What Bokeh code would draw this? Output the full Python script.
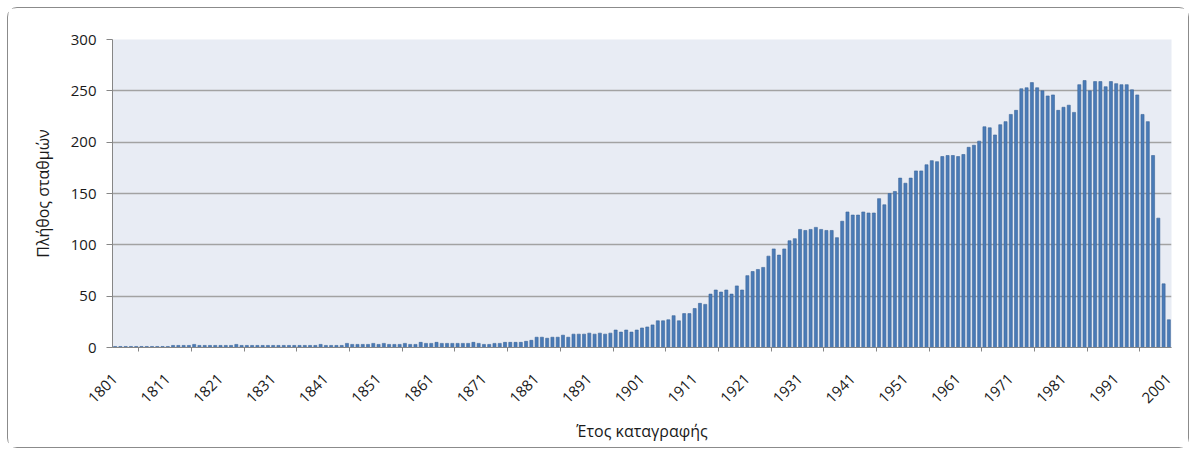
from math import pi

from bokeh.embed import file_html
from bokeh.models import ColumnDataSource, FixedTicker, LinearAxis, Range1d
from bokeh.plotting import figure
from bokeh.resources import INLINE

# Year of record (one bar per year)
years = list(range(1801, 2002))

# Number of stations per year, one row per decade
stations = (
    [1, 1, 1, 1, 1, 1, 1, 1, 1, 1]                       # 1801-1810
    + [1, 2, 2, 2, 2, 3, 2, 2, 2, 2]                     # 1811-1820
    + [2, 2, 2, 3, 2, 2, 2, 2, 2, 2]                     # 1821-1830
    + [2, 2, 2, 2, 2, 2, 2, 2, 2, 3]                     # 1831-1840
    + [2, 2, 2, 2, 4, 3, 3, 3, 3, 4]                     # 1841-1850
    + [3, 4, 3, 3, 3, 4, 3, 3, 5, 4]                     # 1851-1860
    + [4, 5, 4, 4, 4, 4, 4, 4, 5, 4]                     # 1861-1870
    + [3, 3, 4, 4, 5, 5, 5, 5, 6, 7]                     # 1871-1880
    + [10, 10, 9, 10, 10, 12, 10, 13, 13, 13]            # 1881-1890
    + [14, 13, 14, 13, 14, 17, 15, 17, 15, 17]           # 1891-1900
    + [19, 20, 22, 26, 26, 27, 31, 26, 33, 33]           # 1901-1910
    + [38, 43, 42, 52, 56, 54, 56, 52, 60, 56]           # 1911-1920
    + [70, 74, 76, 78, 89, 96, 90, 96, 104, 106]         # 1921-1930
    + [115, 114, 115, 117, 115, 114, 114, 107, 123, 132] # 1931-1940
    + [129, 129, 132, 131, 131, 145, 139, 150, 152, 165] # 1941-1950
    + [160, 165, 172, 172, 178, 182, 181, 186, 187, 187] # 1951-1960
    + [186, 188, 195, 197, 201, 215, 214, 207, 217, 220] # 1961-1970
    + [227, 231, 252, 253, 258, 253, 250, 245, 246, 231] # 1971-1980
    + [234, 236, 229, 256, 260, 250, 259, 259, 254, 259] # 1981-1990
    + [257, 256, 256, 251, 246, 227, 220, 187, 126, 62]  # 1991-2000
    + [27]                                               # 2001
)

label_years = list(range(1801, 2002, 10))
y_ticks = [0, 50, 100, 150, 200, 250, 300]

FONT = "Open Sans"
TEXT = "#1a1a1a"
AXIS = "#868686"

src = ColumnDataSource(dict(year=years, count=stations))

p = figure(
    width=1182, height=441,
    output_backend="svg", toolbar_location=None,
    x_range=Range1d(years[0] - 0.5, years[-1] + 0.5),
    y_range=Range1d(0, 300),
    x_axis_location=None,
    min_border_left=104, min_border_right=19,
    min_border_top=31, min_border_bottom=102,
)
p.styles = {
    "border": "1.5px solid #8b8b8b",
    "border-radius": "10px",
    "margin-left": "7px",
    "margin-top": "7px",
}
p.background_fill_color = "#e8ecf4"
p.border_fill_color = "white"
p.outline_line_color = None
p.xgrid.visible = False

p.vbar(x="year", top="count", width=0.58, source=src,
       fill_color="#4a7bb7", line_color="#3b6499", line_width=0.6)

# y axis
yax = p.yaxis[0]
yax.ticker = FixedTicker(ticks=y_ticks, minor_ticks=[])
yax.axis_line_color = AXIS
yax.major_tick_line_color = AXIS
yax.major_tick_out = 6
yax.major_tick_in = 0
yax.major_label_standoff = 10
yax.major_label_text_font = FONT
yax.major_label_text_font_size = "15px"
yax.major_label_text_color = TEXT
yax.axis_label = "Πλήθος σταθμών"
yax.axis_label_text_font = FONT
yax.axis_label_text_font_size = "16px"
yax.axis_label_text_font_style = "normal"
yax.axis_label_text_color = TEXT
yax.axis_label_standoff = 14

p.ygrid.grid_line_color = "#a2a2a2"
p.ygrid.grid_line_width = 1.3

# year boundaries: every 10 years (long marks) and the 5-year midpoints
decade_bounds = [y - 0.5 for y in label_years]
half_bounds = [y + 4.5 for y in label_years[:-1]]

# x axis: year labels centred on their bars, short marks between
xax = LinearAxis(
    ticker=FixedTicker(ticks=label_years, minor_ticks=half_bounds),
    axis_line_color=AXIS,
    major_tick_line_color=None, minor_tick_line_color=AXIS,
    major_tick_out=0, major_tick_in=0,
    minor_tick_out=4, minor_tick_in=0,
    major_label_orientation=pi / 4,
    major_label_standoff=25,
    major_label_text_font=FONT,
    major_label_text_font_size="15px",
    major_label_text_color=TEXT,
    axis_label="Έτος καταγραφής",
    axis_label_text_font=FONT,
    axis_label_text_font_size="16px",
    axis_label_text_font_style="normal",
    axis_label_text_color=TEXT,
    axis_label_standoff=9,
)
p.add_layout(xax, "below")

# long marks on the decade boundaries, drawn on the same baseline
decade_ax = LinearAxis(
    ticker=FixedTicker(ticks=[], minor_ticks=decade_bounds),
    fixed_location=0,
    axis_line_color=AXIS,
    minor_tick_line_color=AXIS,
    minor_tick_out=7, minor_tick_in=0,
)
p.add_layout(decade_ax, "below")

open("out.html", "w").write(file_html(p, INLINE))
